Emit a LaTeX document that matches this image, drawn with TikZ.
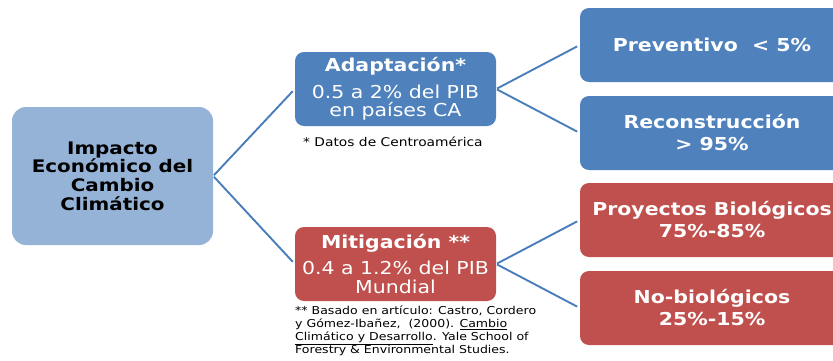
\documentclass[tikz,border=0pt]{standalone}
\usepackage{fontspec}
\setmainfont[FakeStretch=1.15]{DejaVu Sans}
\definecolor{lblue}{HTML}{95B3D7}
\definecolor{mblue}{HTML}{4F81BD}
\definecolor{mred}{HTML}{C0504D}
\definecolor{lnblue}{HTML}{4A7EBB}
\tikzset{
  box/.style={rounded corners=9pt, inner sep=0pt, align=center, text=white},
  mid/.style={box, minimum width=201pt, minimum height=74pt, font=\fontsize{17.8}{18.3}\selectfont},
  rbox/.style={box, minimum width=264pt, minimum height=74pt, font=\fontsize{17.8}{22}\selectfont\bfseries},
  conn/.style={draw=lnblue, line width=1.9pt, shorten >=3pt, shorten <=1pt},
  note/.style={inner sep=0pt, align=left, anchor=north west, text=black}
}
\begin{document}
\begin{tikzpicture}[x=1pt,y=1pt]
\clip (0,0) rectangle (833,360);
\fill[white] (0,0) rectangle (833,360);
\node[box, fill=lblue, text=black, rounded corners=14pt, minimum width=201pt, minimum height=138pt,
  font=\fontsize{17.3}{18.7}\selectfont\bfseries] (imp) at (112.5,184)
  {Impacto\\Económico del\\Cambio\\Climático};
\node[mid, fill=mblue] (ada) at (395.5,271)
  {\bfseries Adaptación*\\[8pt]
   0.5 a 2\% del PIB\\en países CA};
\node[mid, fill=mred] (mit) at (395.5,96)
  {\bfseries Mitigación **\\[8pt]
   0.4 a 1.2\% del PIB\\Mundial};
\node[rbox, fill=mblue] (pre) at (712,315) {Preventivo\ \ < 5\%};
\node[rbox, fill=mblue] (rec) at (712,227) {Reconstrucción\\> 95\%};
\node[rbox, fill=mred] (pro) at (712,140) {Proyectos Biológicos\\75\%-85\%};
\node[rbox, fill=mred] (nob) at (712,52) {No-biológicos\\25\%-15\%};
\node[note, font=\fontsize{12}{13}\selectfont] (n1) at (303,223) {* Datos de Centroamérica};
\node[note, font=\fontsize{10.9}{12.8}\selectfont] (n2) at (295,54)
  {** Basado en artículo: Castro, Cordero\\
   y Gómez-Ibañez,\ \ (2000). \underline{Cambio}\\
   \underline{Climático y Desarrollo}. Yale School of\\
   Forestry \& Environmental Studies.};
\draw[conn] (imp.east) -- (ada.west);
\draw[conn] (imp.east) -- (mit.west);
\draw[conn] (ada.east) -- (pre.west);
\draw[conn] (ada.east) -- (rec.west);
\draw[conn] (mit.east) -- (pro.west);
\draw[conn] (mit.east) -- (nob.west);
\end{tikzpicture}
\end{document}
